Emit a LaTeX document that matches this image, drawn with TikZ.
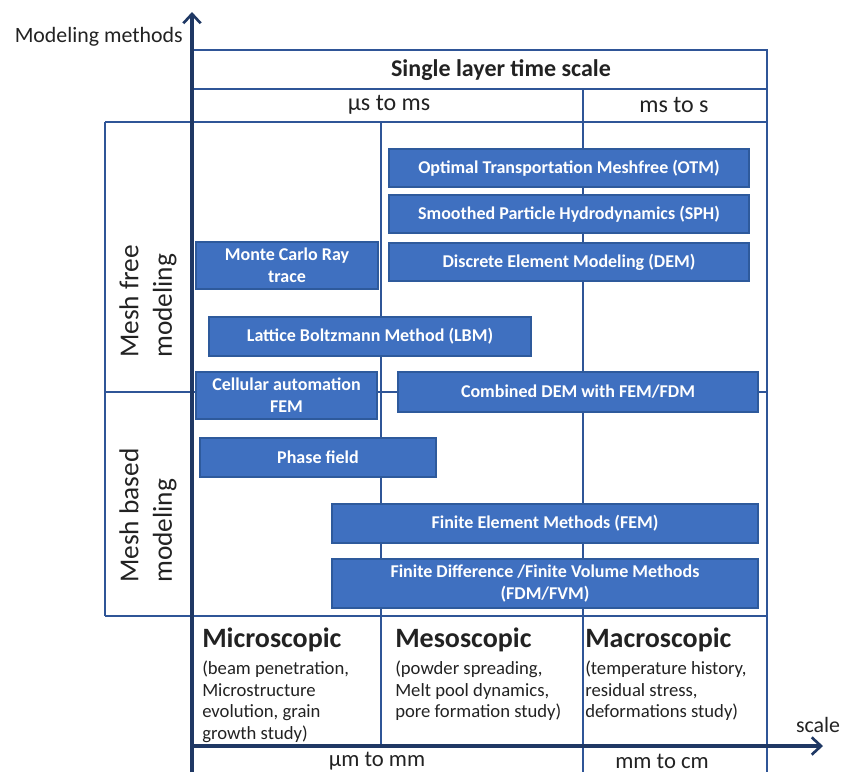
\documentclass[tikz,border=0pt]{standalone}
\usepackage{fontspec}
\setmainfont{Carlito}
\usepackage{xcolor}
\usepackage{tikz}
\usetikzlibrary{positioning, arrows.meta}

\definecolor{gridblue}{HTML}{2F5597}
\definecolor{axisnavy}{HTML}{1F3864}
\definecolor{boxfill}{HTML}{3F70C0}
\definecolor{boxline}{HTML}{2E5A9C}
\definecolor{inkgray}{HTML}{222222}

\begin{document}
\begin{tikzpicture}[
  x=0.75pt, y=-0.75pt,
  grid/.style={draw=gridblue, line width=1.5pt},
  axis/.style={draw=axisnavy, line width=2.3pt,
               -{Straight Barb[length=7pt, width=13pt, line width=2pt]}},
  method/.style={draw=boxline, line width=1pt, fill=boxfill, text=white,
                 align=center, inner sep=0pt,
                 font=\fontsize{13.5}{16.5}\selectfont\bfseries},
  head/.style={text=inkgray, inner sep=0pt},
  scalename/.style={head, anchor=base west,
                    font=\fontsize{21}{25}\selectfont\bfseries},
  scaledesc/.style={head, anchor=north west, align=left,
                    font=\fontsize{14}{16.1}\selectfont},
]
\useasboundingbox (0,0) rectangle (853,772);

% table lines
\draw[grid] (192,50) -- (767,50) -- (767,772);
\draw[grid] (192,89) -- (767,89);
\draw[grid] (105,122) -- (767,122);
\draw[grid] (105,392) -- (767,392);
\draw[grid] (105,616) -- (767,616);
\draw[grid] (105,122) -- (105,616);
\draw[grid] (583,89) -- (583,772);
\draw[grid] (381,122) -- (381,746);

% header texts
\node[head, anchor=east, font=\fontsize{16.4}{20}\selectfont] (ylabel) at (183,37) {Modeling methods};
\node[head, font=\fontsize{18}{21}\selectfont\bfseries] (timescale) at (501,70) {Single layer time scale};
\node[head, font=\fontsize{18}{21}\selectfont] (usms) at (389,105) {µs to ms};
\node[head, font=\fontsize{18}{21}\selectfont] (mss) at (674,105) {ms to s};

\node[head, rotate=90, anchor=west, align=left, font=\fontsize{20.5}{25}\selectfont]
  (meshfree) at (148,358) {Mesh free\\modeling};
\node[head, rotate=90, anchor=west, align=left, font=\fontsize{20.5}{25}\selectfont]
  (meshbased) at (148,583) {Mesh based\\modeling};

% methods
\node[method, minimum width=270pt, minimum height=28.5pt] (otm) at (569,168)
  {Optimal Transportation Meshfree (OTM)};
\node[method, minimum width=270pt, minimum height=28.5pt] (sph) at (569,214)
  {Smoothed Particle Hydrodynamics (SPH)};
\node[method, minimum width=270pt, minimum height=28.5pt] (dem) at (569,262)
  {Discrete Element Modeling (DEM)};
\node[method, minimum width=136.5pt, minimum height=35.25pt] (mcrt) at (287,265.5)
  {Monte Carlo Ray\\trace};
\node[method, minimum width=241.5pt, minimum height=29.25pt] (lbm) at (370,336.5)
  {Lattice Boltzmann Method (LBM)};
\node[method, minimum width=135.75pt, minimum height=35.25pt] (cafem) at (286.5,395.5)
  {Cellular automation\\FEM};
\node[method, minimum width=270pt, minimum height=30pt] (cdem) at (578,392)
  {Combined DEM with FEM/FDM};
\node[method, minimum width=177pt, minimum height=29.25pt] (pf) at (318,457.5)
  {Phase field};
\node[method, minimum width=319.5pt, minimum height=29.25pt] (fem) at (545,523.5)
  {Finite Element Methods (FEM)};
\node[method, minimum width=319.5pt, minimum height=36.75pt] (fdm) at (545,583.5)
  {Finite Difference /Finite Volume Methods\\(FDM/FVM)};

% scales
\node[scalename] (micro) at (202,647) {Microscopic};
\node[scaledesc] (microtxt) at (202,661)
  {(beam penetration,\\Microstructure\\evolution, grain\\growth study)};
\node[scalename] (meso) at (395,647) {Mesoscopic};
\node[scaledesc] (mesotxt) at (395,661)
  {(powder spreading,\\Melt pool dynamics,\\pore formation study)};
\node[scalename] (macro) at (585,647) {Macroscopic};
\node[scaledesc] (macrotxt) at (585,661)
  {(temperature history,\\residual stress,\\deformations study)};

\node[head, font=\fontsize{16.4}{20}\selectfont] (xlabel) at (818,725) {scale};
\node[head, font=\fontsize{17}{20}\selectfont] (ummm) at (377,761) {µm to mm};
\node[head, font=\fontsize{17}{20}\selectfont] (mmcm) at (662,761) {mm to cm};

% axes
\coordinate (origin) at (192,746);
\coordinate (ybase) at (192,772);
\coordinate (ytip) at (192,12);
\coordinate (xtip) at (823,746);
\draw[axis] (ybase) -- (ytip);
\draw[axis] (origin) -- (xtip);

\end{tikzpicture}
\end{document}
